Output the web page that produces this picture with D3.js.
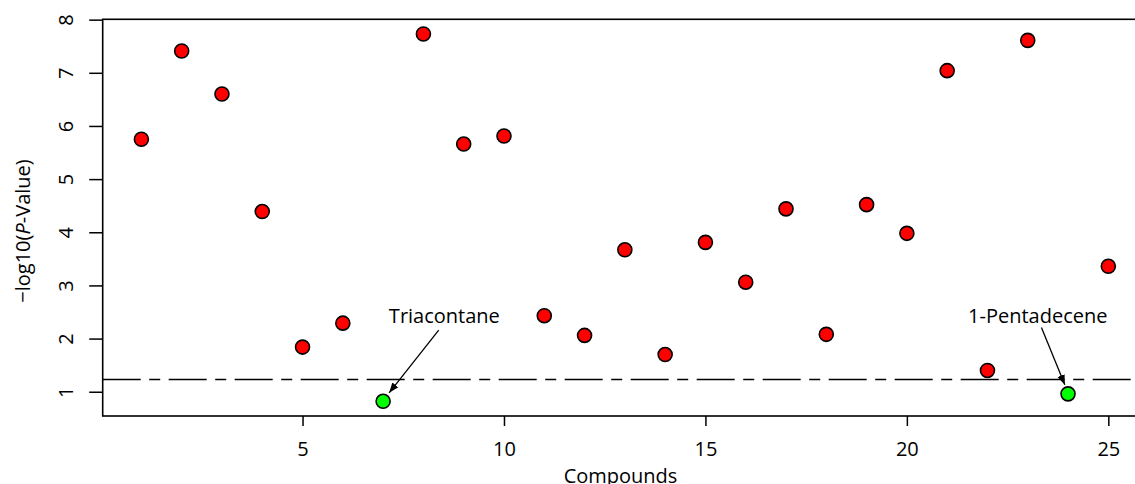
<!DOCTYPE html>
<html>
<head>
<meta charset="utf-8">
<script src="https://cdn.jsdelivr.net/npm/d3@7"></script>
<style>
  body { margin: 0; background: #fff; }
  text { font-family: "Open Sans", "Noto Sans", sans-serif; fill: #000; }
</style>
</head>
<body>
<div id="chart"></div>
<script>
// compound index and -log10(p) values
var compounds = d3.range(1, 26);
var pValues = [5.75, 7.41, 6.60, 4.39, 1.84, 2.29, 0.82, 7.73, 5.66, 5.81,
               2.43, 2.06, 3.67, 1.70, 3.81, 3.06, 4.44, 2.08, 4.52, 3.98,
               7.04, 1.40, 7.61, 0.96, 3.36];
var highlighted = [7, 24];
var threshold = 1.23;
var xTicks = [5, 10, 15, 20, 25];
var yTicks = [1, 2, 3, 4, 5, 6, 7, 8];

// annotation labels, arrow tail and head in data units
var noteLabels = ["Triacontane", "1-Pentadecene"];
var noteText = [[8.52, 2.30], [23.25, 2.30]];
var noteFrom = [[8.38, 2.16], [23.34, 2.21]];
var noteTo = [[7.15, 0.98], [23.92, 1.13]];

var svgWidth = 1135;
var svgHeight = 484;

var svg = d3.select("#chart")
  .append("svg")
  .attr("width", svgWidth)
  .attr("height", svgHeight);

var data = compounds.map((c, i) => ({ x: c, y: pValues[i] }));

// R style 4% padding on both axes
var xExt = d3.extent(compounds);
var xPad = (xExt[1] - xExt[0]) * 0.04;
var yExt = d3.extent(pValues);
var yPad = (yExt[1] - yExt[0]) * 0.04;

var xScale = d3.scaleLinear()
  .domain([xExt[0] - xPad, xExt[1] + xPad])
  .range([102.7, 1147]);

var yScale = d3.scaleLinear()
  .domain([yExt[0] - yPad, yExt[1] + yPad])
  .range([416, 19.3]);

var defs = svg.append("defs");
defs.append("marker")
  .attr("id", "head")
  .attr("viewBox", "0 0 10 10")
  .attr("refX", 10)
  .attr("refY", 5)
  .attr("markerWidth", 10)
  .attr("markerHeight", 10)
  .attr("markerUnits", "userSpaceOnUse")
  .attr("orient", "auto")
  .append("path")
  .attr("d", "M0,1.2L10,5L0,8.8Z")
  .attr("fill", "#000");

// threshold line
svg.append("line")
  .attr("x1", xScale.range()[0])
  .attr("x2", xScale.range()[1])
  .attr("y1", yScale(threshold))
  .attr("y2", yScale(threshold))
  .attr("stroke", "#000")
  .attr("stroke-width", 1.6)
  .attr("stroke-dasharray", "38,8.5,11,8.5");

// x axis
var xAxis = svg.append("g")
  .attr("transform", `translate(0, ${yScale.range()[0]})`)
  .call(d3.axisBottom(xScale).tickValues(xTicks).tickSize(10).tickSizeOuter(0));
xAxis.select(".domain").remove();
xAxis.selectAll("line").attr("stroke-width", 1.5);
xAxis.selectAll("text")
  .attr("y", 40)
  .attr("dy", 0)
  .style("font-size", "20px")
  .style("font-family", "'Open Sans', sans-serif");

// y axis
var yAxis = svg.append("g")
  .attr("transform", `translate(${xScale.range()[0]}, 0)`)
  .call(d3.axisLeft(yScale).tickValues(yTicks).tickSize(13.5).tickSizeOuter(0));
yAxis.select(".domain").remove();
yAxis.selectAll("line").attr("stroke-width", 1.5);
yAxis.selectAll("text")
  .attr("x", 0)
  .attr("dy", 0)
  .attr("text-anchor", "middle")
  .attr("transform", "translate(-30,0) rotate(-90)")
  .style("font-size", "20px")
  .style("font-family", "'Open Sans', sans-serif");

// box
svg.append("rect")
  .attr("x", xScale.range()[0])
  .attr("y", yScale.range()[1])
  .attr("width", xScale.range()[1] - xScale.range()[0])
  .attr("height", yScale.range()[0] - yScale.range()[1])
  .attr("fill", "none")
  .attr("stroke", "#000")
  .attr("stroke-width", 1.6);

// arrows and labels
noteLabels.forEach(function(label, i) {
  svg.append("line")
    .attr("x1", xScale(noteFrom[i][0]))
    .attr("y1", yScale(noteFrom[i][1]))
    .attr("x2", xScale(noteTo[i][0]))
    .attr("y2", yScale(noteTo[i][1]))
    .attr("stroke", "#000")
    .attr("stroke-width", 1.3)
    .attr("marker-end", "url(#head)");

  svg.append("text")
    .attr("x", xScale(noteText[i][0]))
    .attr("y", yScale(noteText[i][1]))
    .attr("text-anchor", "middle")
    .style("font-size", "20px")
    .text(label);
});

// points
svg.append("g").selectAll("circle")
  .data(data)
  .enter()
  .append("circle")
  .attr("cx", d => xScale(d.x))
  .attr("cy", d => yScale(d.y))
  .attr("r", 7)
  .attr("fill", d => highlighted.includes(d.x) ? "#00ff00" : "#ff0000")
  .attr("stroke", "#000")
  .attr("stroke-width", 1.6);

// axis titles
svg.append("text")
  .attr("x", 620.5)
  .attr("y", 482.5)
  .attr("text-anchor", "middle")
  .style("font-size", "20px")
  .text("Compounds");

var yTitle = svg.append("text")
  .attr("transform", "translate(29.5, 231) rotate(-90)")
  .attr("text-anchor", "middle")
  .style("font-size", "20px");
yTitle.append("tspan").text("\u2212log10(");
yTitle.append("tspan").style("font-style", "italic").text("P");
yTitle.append("tspan").text("-Value)");
</script>
</body>
</html>
